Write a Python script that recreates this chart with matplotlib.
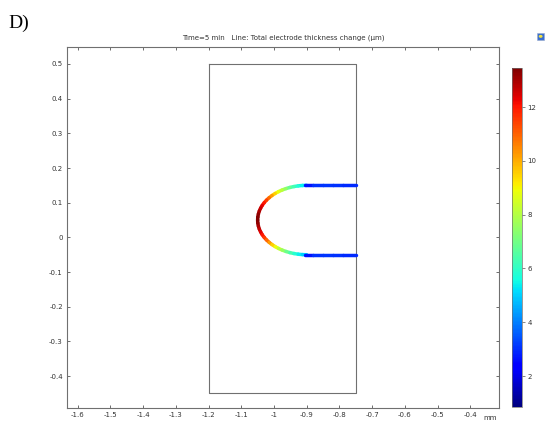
import numpy as np
import matplotlib.pyplot as plt
from matplotlib.collections import LineCollection
from matplotlib.patches import Rectangle, Circle

plt.rcParams['axes.unicode_minus'] = False

# geometry outline (mm)
box_x = [-1.2, -0.75, -0.75, -1.2, -1.2]
box_y = [0.5, 0.5, -0.45, -0.45, 0.5]

# thickness change along the curved edge, every 5 deg from top joint (90) to bottom joint (270)
arc_deg = [90, 95, 100, 105, 110, 115, 120, 125, 130, 135, 140, 145, 150, 155, 160, 165, 170, 175, 180,
           185, 190, 195, 200, 205, 210, 215, 220, 225, 230, 235, 240, 245, 250, 255, 260, 265, 270]
arc_val = [4.8, 5.2, 5.6, 6.1, 6.6, 7.2, 7.8, 8.5, 9.2, 9.9, 10.6, 11.2, 11.8, 12.2, 12.5, 12.8, 13.1, 13.35, 13.45,
           13.35, 13.1, 12.8, 12.5, 12.2, 11.8, 11.2, 10.6, 9.9, 9.2, 8.5, 7.8, 7.2, 6.6, 6.1, 5.6, 5.2, 4.8]
arc_cx, arc_cy, arc_a, arc_b = -0.9, 0.05, 0.15, 0.1

# straight edges
edge_x = [-0.905, -0.88, -0.85, -0.82, -0.79, -0.75]
top_val = [2.3, 3.0, 3.1, 3.1, 3.0, 2.9]
bot_val = [2.3, 3.0, 3.1, 3.1, 3.0, 2.9]
top_y, bot_y = 0.15, -0.05

vmin, vmax = 0.85, 13.45

xticks = [-1.6, -1.5, -1.4, -1.3, -1.2, -1.1, -1.0, -0.9, -0.8, -0.7, -0.6, -0.5, -0.4]
xlabels = ['-1.6', '-1.5', '-1.4', '-1.3', '-1.2', '-1.1', '-1', '-0.9', '-0.8', '-0.7', '-0.6', '-0.5', '-0.4']
yticks = [0.5, 0.4, 0.3, 0.2, 0.1, 0.0, -0.1, -0.2, -0.3, -0.4]
ylabels = ['0.5', '0.4', '0.3', '0.2', '0.1', '0', '-0.1', '-0.2', '-0.3', '-0.4']
cticks = [2, 4, 6, 8, 10, 12]

fig = plt.figure(figsize=(5.5, 4.23), dpi=100)
ax = fig.add_axes([0.1218, 0.0355, 0.7855, 0.8534])
ax.plot(box_x, box_y, color='#707070', lw=0.8)

segs, vals = [], []
for i in range(len(arc_deg) - 1):
    th = np.radians(np.linspace(arc_deg[i], arc_deg[i + 1], 6))
    pts = np.column_stack([arc_cx + arc_a * np.cos(th), arc_cy + arc_b * np.sin(th)])
    segs.append(pts)
    vals.append((arc_val[i] + arc_val[i + 1]) / 2)
for yy, vv in [(top_y, top_val), (bot_y, bot_val)]:
    for i in range(len(edge_x) - 1):
        segs.append([(edge_x[i], yy), (edge_x[i + 1], yy)])
        vals.append((vv[i] + vv[i + 1]) / 2)

lc = LineCollection(segs, cmap='jet', norm=plt.Normalize(vmin, vmax), linewidths=2.5, capstyle='round')
lc.set_array(np.array(vals))
ax.add_collection(lc)

ax.set_xlim(-1.633, -0.312)
ax.set_ylim(-0.492, 0.549)
ax.set_xticks(xticks)
ax.set_xticklabels(xlabels)
ax.set_yticks(yticks)
ax.set_yticklabels(ylabels)
ax.tick_params(direction='in', length=2.5, width=0.6, labelsize=5, colors='#555555',
               labelcolor='#333333', top=True, right=True, pad=3)
for s in ax.spines.values():
    s.set_color('#707070')
    s.set_linewidth(0.8)

fig.text(0.515, 0.910, 'Time=5 min   Line: Total electrode thickness change (\u00b5m)',
         ha='center', va='center', fontsize=5, color='#333333')
fig.text(490 / 550, 1 - 421 / 423, 'mm', ha='center', va='bottom', fontsize=5, color='#333333')
fig.text(0.015, 0.945, 'D)', fontsize=14, family='Liberation Serif', va='center')

cax = fig.add_axes([0.9309, 0.0378, 0.0182, 0.8014])
cb = fig.colorbar(lc, cax=cax, ticks=cticks)
cb.outline.set_edgecolor('#707070')
cb.outline.set_linewidth(0.5)
cax.tick_params(labelsize=5, length=2, width=0.5, colors='#555555', labelcolor='#333333', pad=2)

# little toolbar icon
fig.patches.append(Rectangle((0.977, 0.906), 0.012, 0.016, transform=fig.transFigure,
                             facecolor='#3a6fd0', edgecolor='#99aacc', lw=0.4))
fig.patches.append(Circle((0.983, 0.914), 0.0035, transform=fig.transFigure,
                          facecolor='#f0e040', edgecolor='none'))

fig.savefig('out.png', dpi=100)
